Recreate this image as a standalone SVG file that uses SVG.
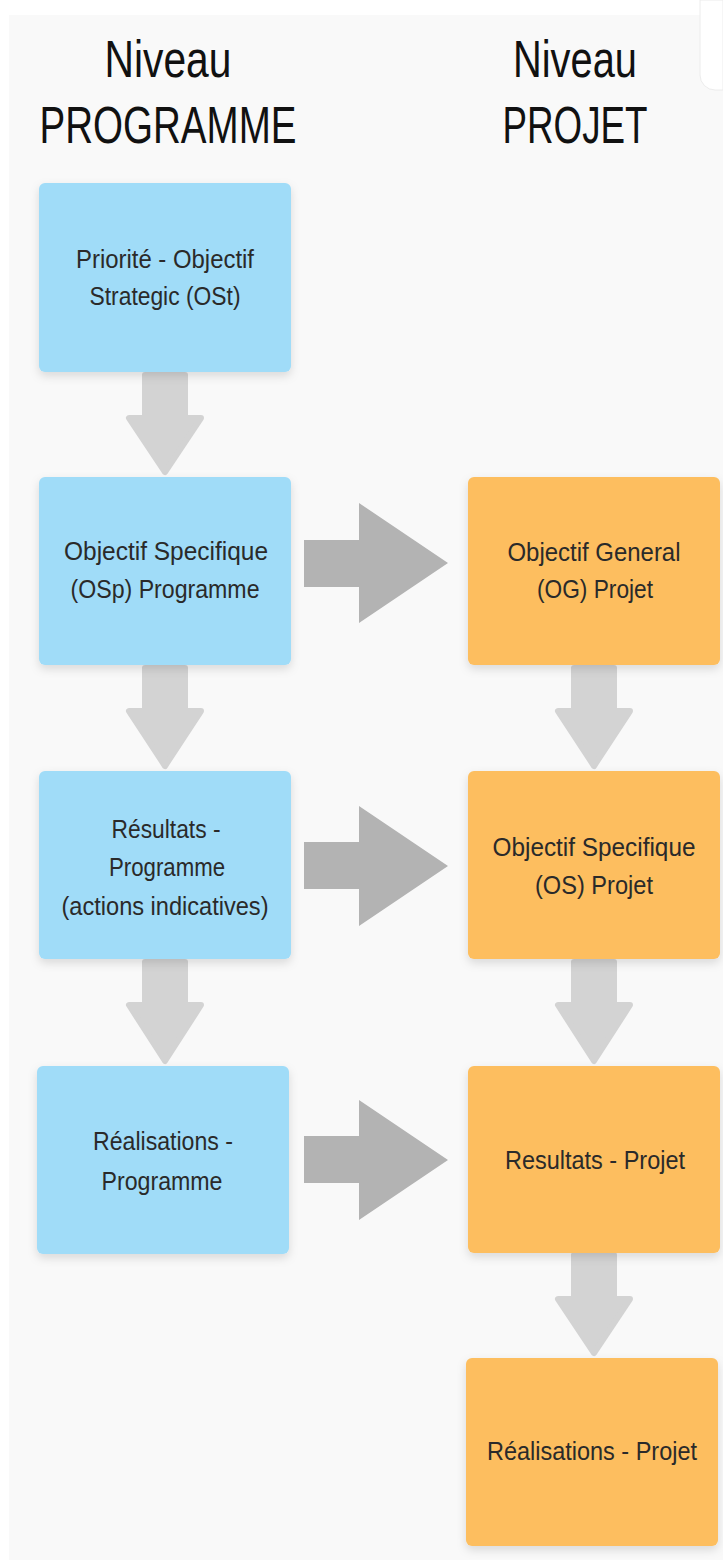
<svg xmlns="http://www.w3.org/2000/svg" width="723" height="1560" viewBox="0 0 723 1560">
<defs>
<filter id="sh" x="-10%" y="-10%" width="120%" height="125%">
<feDropShadow dx="0" dy="4" stdDeviation="5" flood-color="#000" flood-opacity="0.13"/>
</filter>
<style>
.hd{font-family:"Liberation Sans",Arial,sans-serif;font-size:52px;fill:#111;text-anchor:middle}
.tx{font-family:"Liberation Sans",Arial,sans-serif;font-size:25px;fill:#2a2a2a;text-anchor:middle}
.blue{fill:#a0dcf8}
.orange{fill:#fdbe5f}
.dn{fill:#d3d3d3;stroke:#d3d3d3;stroke-width:6;stroke-linejoin:round}
.rt{fill:#b3b3b3}
</style>
</defs>
<rect x="0" y="0" width="723" height="1560" fill="#ffffff"/>
<rect x="9" y="15" width="714" height="1545" fill="#f9f9f9"/>
<path d="M700 0 H723 V90 H715 A15 15 0 0 1 700 75 Z" fill="#ffffff" stroke="#ececec" stroke-width="1"/>

<g id="headers">
<text class="hd" x="168" y="77" textLength="127" lengthAdjust="spacingAndGlyphs">Niveau</text>
<text class="hd" x="168" y="143" textLength="257" lengthAdjust="spacingAndGlyphs">PROGRAMME</text>
<text class="hd" x="575" y="77" textLength="124" lengthAdjust="spacingAndGlyphs">Niveau</text>
<text class="hd" x="575" y="143" textLength="145" lengthAdjust="spacingAndGlyphs">PROJET</text>
</g>

<g id="connectors">
<path class="dn" d="M145 375 H185 V418 H201 L165 472 L129 418 H145 Z"/>
<path class="dn" d="M145 668 H185 V711 H201 L165 766 L129 711 H145 Z"/>
<path class="dn" d="M145 962 H185 V1005 H201 L165 1061 L129 1005 H145 Z"/>
<path class="dn" d="M574 668 H614 V711 H630 L594 766 L558 711 H574 Z"/>
<path class="dn" d="M574 962 H614 V1005 H630 L594 1061 L558 1005 H574 Z"/>
<path class="dn" d="M574 1255 H614 V1299 H630 L594 1353 L558 1299 H574 Z"/>
<polygon class="rt" points="304,540 359,540 359,503 448,563 359,623 359,587 304,587"/>
<polygon class="rt" points="304,842 359,842 359,806 448,866 359,926 359,889 304,889"/>
<polygon class="rt" points="304,1136 359,1136 359,1100 448,1160 359,1220 359,1183 304,1183"/>
</g>

<g id="n-ost">
<rect class="blue" x="39" y="183" width="252" height="189" rx="6" filter="url(#sh)"/>
<text class="tx" x="165" y="268" textLength="178" lengthAdjust="spacingAndGlyphs">Priorité - Objectif</text>
<text class="tx" x="165" y="305" textLength="151" lengthAdjust="spacingAndGlyphs">Strategic (OSt)</text>
</g>
<g id="n-osp">
<rect class="blue" x="39" y="477" width="252" height="188" rx="6" filter="url(#sh)"/>
<text class="tx" x="166" y="560" textLength="204" lengthAdjust="spacingAndGlyphs">Objectif Specifique</text>
<text class="tx" x="165" y="598" textLength="189" lengthAdjust="spacingAndGlyphs">(OSp) Programme</text>
</g>
<g id="n-res-prog">
<rect class="blue" x="39" y="771" width="252" height="188" rx="6" filter="url(#sh)"/>
<text class="tx" x="166" y="838" textLength="109" lengthAdjust="spacingAndGlyphs">Résultats -</text>
<text class="tx" x="167" y="876" textLength="116" lengthAdjust="spacingAndGlyphs">Programme</text>
<text class="tx" x="165" y="915" textLength="207" lengthAdjust="spacingAndGlyphs">(actions indicatives)</text>
</g>
<g id="n-real-prog">
<rect class="blue" x="37" y="1066" width="252" height="188" rx="6" filter="url(#sh)"/>
<text class="tx" x="163" y="1150" textLength="140" lengthAdjust="spacingAndGlyphs">Réalisations -</text>
<text class="tx" x="162" y="1190" textLength="121" lengthAdjust="spacingAndGlyphs">Programme</text>
</g>

<g id="n-og">
<rect class="orange" x="468" y="477" width="252" height="188" rx="6" filter="url(#sh)"/>
<text class="tx" x="594" y="561" textLength="173" lengthAdjust="spacingAndGlyphs">Objectif General</text>
<text class="tx" x="595" y="598" textLength="116" lengthAdjust="spacingAndGlyphs">(OG) Projet</text>
</g>
<g id="n-os">
<rect class="orange" x="468" y="771" width="252" height="188" rx="6" filter="url(#sh)"/>
<text class="tx" x="594" y="856" textLength="203" lengthAdjust="spacingAndGlyphs">Objectif Specifique</text>
<text class="tx" x="594" y="894" textLength="118" lengthAdjust="spacingAndGlyphs">(OS) Projet</text>
</g>
<g id="n-res-proj">
<rect class="orange" x="468" y="1066" width="252" height="187" rx="6" filter="url(#sh)"/>
<text class="tx" x="595" y="1169" textLength="180" lengthAdjust="spacingAndGlyphs">Resultats - Projet</text>
</g>
<g id="n-real-proj">
<rect class="orange" x="466" y="1358" width="252" height="188" rx="6" filter="url(#sh)"/>
<text class="tx" x="592" y="1460" textLength="210" lengthAdjust="spacingAndGlyphs">Réalisations - Projet</text>
</g>
</svg>
